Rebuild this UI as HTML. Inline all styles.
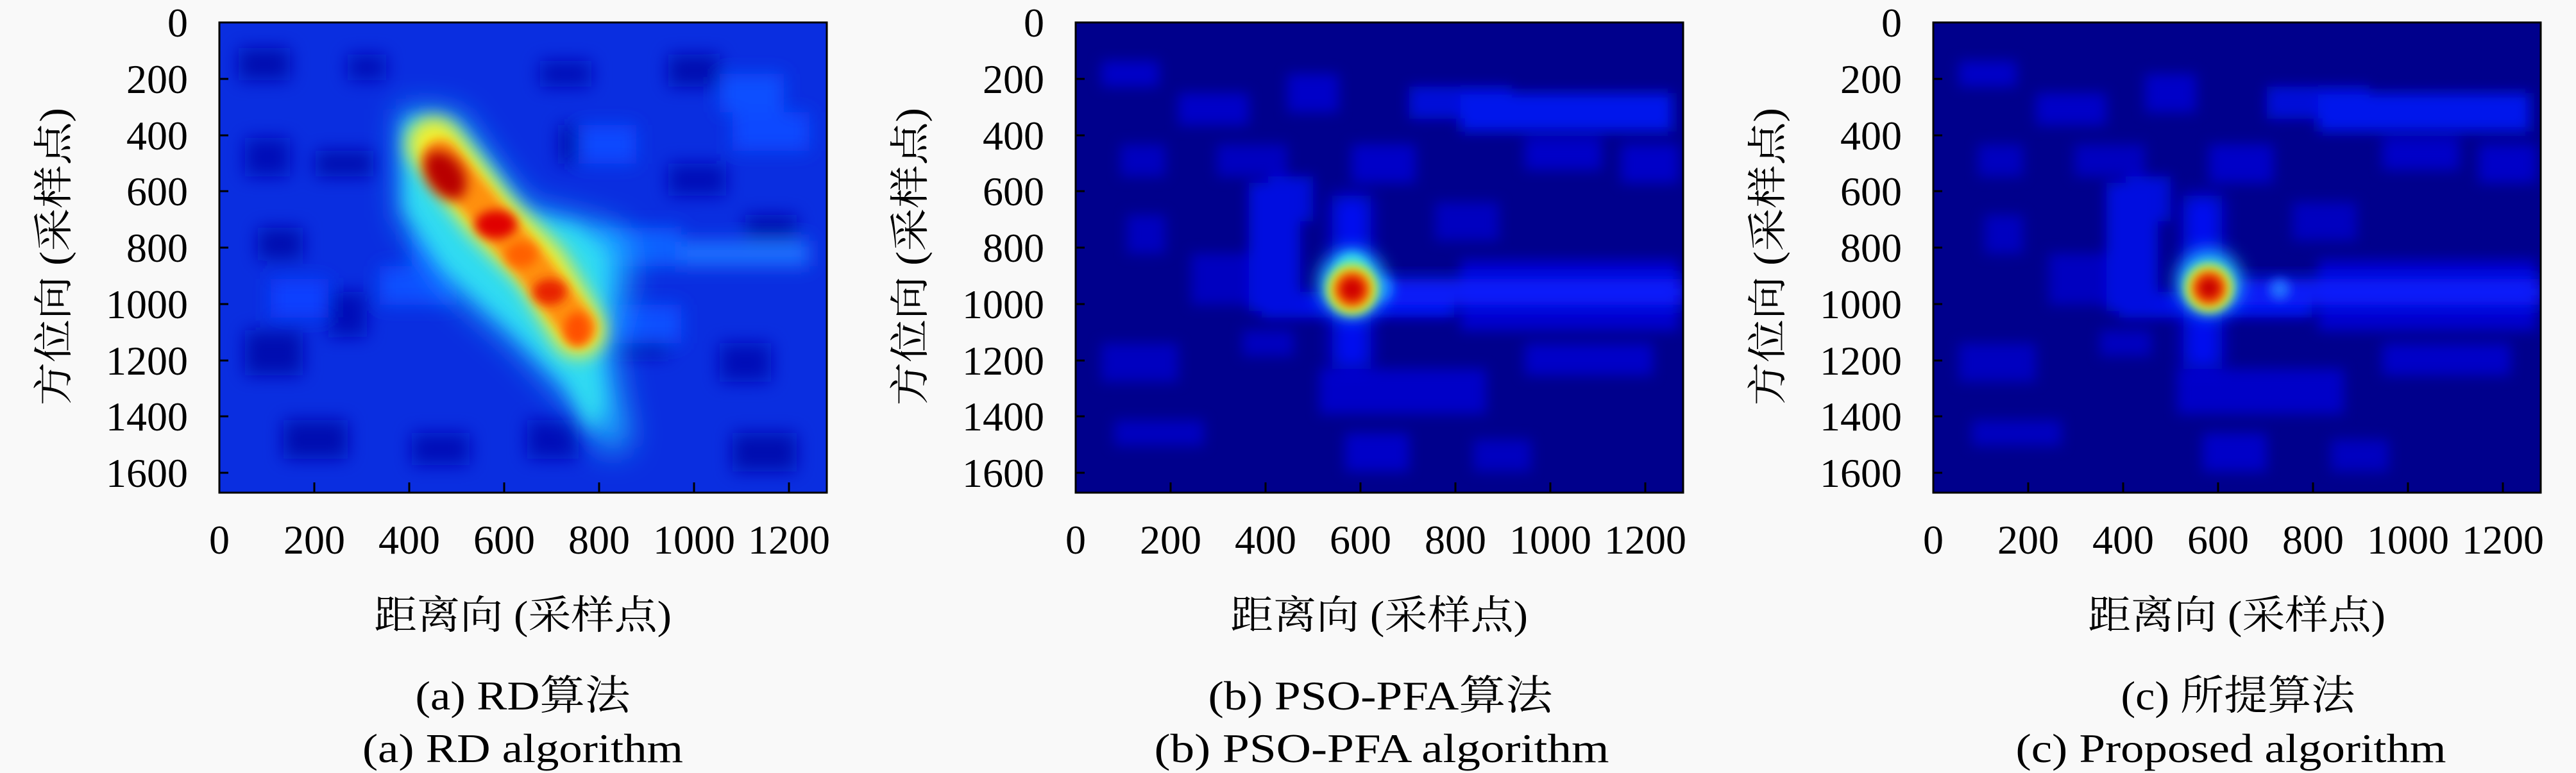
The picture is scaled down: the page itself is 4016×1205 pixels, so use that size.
<!DOCTYPE html>
<html><head><meta charset="utf-8"><style>
html,body{margin:0;padding:0;background:#f9f9f9;}
svg{display:block;}
text{font-family:"Liberation Serif","Noto Serif CJK SC",serif;fill:#000;}
</style></head><body>
<svg width="4016" height="1205" viewBox="0 0 4016 1205" xmlns="http://www.w3.org/2000/svg">
<defs>
<filter id="b8" x="-50%" y="-50%" width="200%" height="200%"><feGaussianBlur stdDeviation="8"/></filter>
<filter id="b10" x="-50%" y="-50%" width="200%" height="200%"><feGaussianBlur stdDeviation="10"/></filter>
<filter id="b14" x="-50%" y="-50%" width="200%" height="200%"><feGaussianBlur stdDeviation="14"/></filter>
<filter id="b25" x="-50%" y="-50%" width="200%" height="200%"><feGaussianBlur stdDeviation="25"/></filter>
<clipPath id="cp"><rect x="0" y="0" width="947" height="733"/></clipPath>
<g id="noiseDark">
<rect x="40" y="60" width="90" height="40" fill="#0000c8"/>
<rect x="160" y="110" width="110" height="50" fill="#0000c8"/>
<rect x="330" y="80" width="80" height="60" fill="#0000c8"/>
<rect x="520" y="100" width="160" height="50" fill="#0008d8"/>
<rect x="600" y="110" width="330" height="60" fill="#0014ec"/>
<rect x="70" y="190" width="70" height="50" fill="#0000c0"/>
<rect x="220" y="190" width="110" height="50" fill="#0000c0"/>
<rect x="430" y="190" width="100" height="60" fill="#0000c8"/>
<rect x="700" y="180" width="120" height="50" fill="#0000c8"/>
<rect x="850" y="190" width="90" height="60" fill="#0000c8"/>
<rect x="300" y="240" width="70" height="70" fill="#0008d8"/>
<rect x="80" y="300" width="60" height="60" fill="#0000c0"/>
<rect x="560" y="280" width="100" height="60" fill="#0000c0"/>
<rect x="180" y="360" width="120" height="80" fill="#0000c0"/>
<rect x="290" y="420" width="300" height="40" fill="#0010e8"/>
<rect x="600" y="370" width="340" height="110" fill="#0004d0"/>
<rect x="260" y="480" width="80" height="40" fill="#0000c0"/>
<rect x="40" y="500" width="120" height="60" fill="#0000c0"/>
<rect x="380" y="540" width="260" height="70" fill="#0000c8"/>
<rect x="700" y="500" width="200" height="50" fill="#0000c8"/>
<rect x="60" y="620" width="140" height="40" fill="#0000c0"/>
<rect x="420" y="640" width="100" height="60" fill="#0000c8"/>
<rect x="620" y="650" width="90" height="50" fill="#0000c0"/>
<rect x="270" y="250" width="80" height="200" fill="#0010e0"/>
</g>
<g id="noiseRD">
<rect x="30" y="40" width="80" height="50" fill="#0010b0"/>
<rect x="200" y="50" width="60" height="40" fill="#0010b8"/>
<rect x="500" y="60" width="80" height="40" fill="#0010b8"/>
<rect x="700" y="50" width="80" height="50" fill="#0010b0"/>
<rect x="40" y="180" width="70" height="60" fill="#0010b8"/>
<rect x="150" y="200" width="90" height="40" fill="#0010b0"/>
<rect x="530" y="160" width="70" height="60" fill="#0010b0"/>
<rect x="700" y="220" width="90" height="50" fill="#0010b8"/>
<rect x="820" y="300" width="80" height="50" fill="#0010b0"/>
<rect x="60" y="320" width="70" height="50" fill="#0010b0"/>
<rect x="170" y="420" width="60" height="70" fill="#0010b8"/>
<rect x="40" y="480" width="90" height="70" fill="#0010b0"/>
<rect x="620" y="460" width="80" height="60" fill="#0010b0"/>
<rect x="780" y="500" width="80" height="60" fill="#0010b8"/>
<rect x="100" y="620" width="100" height="60" fill="#0010b0"/>
<rect x="300" y="640" width="90" height="50" fill="#0010b8"/>
<rect x="480" y="620" width="80" height="60" fill="#0010b8"/>
<rect x="800" y="640" width="100" height="60" fill="#0010b0"/>
<rect x="300" y="310" width="90" height="70" fill="#0010b0"/>
<rect x="780" y="80" width="100" height="60" fill="#1050ff"/>
<rect x="560" y="160" width="90" height="60" fill="#1048ff"/>
<rect x="800" y="140" width="120" height="60" fill="#1048ff"/>
<rect x="720" y="340" width="200" height="40" fill="#1a70ff"/>
<rect x="580" y="320" width="140" height="60" fill="#1060ff"/>
<rect x="300" y="320" width="100" height="60" fill="#1050ff"/>
<rect x="250" y="380" width="120" height="60" fill="#1050ff"/>
<rect x="600" y="440" width="120" height="60" fill="#1050ff"/>
<rect x="80" y="400" width="90" height="60" fill="#0c40ff"/>
</g>
</defs>

<!-- Panel A -->
<g transform="translate(342,35)">
<g clip-path="url(#cp)">
<rect width="947" height="733" fill="#0a2ee0"/>
<use href="#noiseRD" filter="url(#b14)"/>
<polygon points="283,134 372,142 426,218 480,288 551,303 631,326 640,395 613,503 622,564 640,656 605,672 551,595 462,503 355,410 283,303" fill="#20b8ff" filter="url(#b25)"/>
<polygon points="290,150 362,160 420,230 470,300 560,320 600,360 600,420 590,520 600,600 580,640 540,560 450,470 350,380 290,290" fill="#30e0f0" filter="url(#b14)" opacity="0.9"/>
<path d="M335,190 L420,300 L500,380 L560,480" stroke="#f0f030" stroke-width="85" stroke-linecap="round" fill="none" filter="url(#b14)"/>
<path d="M345,210 L420,300 L480,370 L560,475" stroke="#ff9010" stroke-width="55" stroke-linecap="round" fill="none" filter="url(#b8)"/>
<ellipse cx="352" cy="238" rx="28" ry="42" fill="#b80000" filter="url(#b10)" transform="rotate(-35 352 238)"/>
<ellipse cx="431" cy="315" rx="32" ry="22" fill="#e00000" filter="url(#b8)"/>
<ellipse cx="471" cy="362" rx="24" ry="20" fill="#ff6000" filter="url(#b8)"/>
<ellipse cx="515" cy="420" rx="26" ry="20" fill="#e82000" filter="url(#b8)"/>
<ellipse cx="558" cy="478" rx="20" ry="26" fill="#ff5000" filter="url(#b8)"/>
</g>
<rect width="947" height="733" fill="none" stroke="#000" stroke-width="3"/>
</g>

<!-- Panel B -->
<g transform="translate(1677,35)">
<g clip-path="url(#cp)">
<rect width="947" height="733" fill="#00008c"/>
<use href="#noiseDark" filter="url(#b10)"/>
<rect x="440" y="400" width="507" height="40" fill="#0824ff" filter="url(#b14)"/>
<rect x="400" y="270" width="60" height="270" fill="#0010f0" filter="url(#b14)"/>
<circle cx="478" cy="416" r="18" fill="#1060ff" filter="url(#b8)"/>
<circle cx="431" cy="407" r="52" fill="#20c0ff" filter="url(#b14)"/>
<circle cx="431" cy="382" r="22" fill="#30d8f0" filter="url(#b8)"/>
<circle cx="431" cy="416" r="40" fill="#c0ff40" filter="url(#b8)"/>
<circle cx="431" cy="416" r="30" fill="#ff8000" filter="url(#b8)"/>
<circle cx="431" cy="416" r="20" fill="#d00000" filter="url(#b8)"/>
</g>
<rect width="947" height="733" fill="none" stroke="#000" stroke-width="3"/>
</g>

<!-- Panel C -->
<g transform="translate(3014,35)">
<g clip-path="url(#cp)">
<rect width="947" height="733" fill="#00008c"/>
<use href="#noiseDark" filter="url(#b10)"/>
<rect x="430" y="400" width="517" height="40" fill="#0824ff" filter="url(#b14)"/>
<rect x="390" y="270" width="60" height="270" fill="#0010f0" filter="url(#b14)"/>
<circle cx="540" cy="416" r="16" fill="#2070ff" filter="url(#b8)"/>
<circle cx="430" cy="405" r="50" fill="#20c0ff" filter="url(#b14)"/>
<circle cx="430" cy="414" r="38" fill="#c0ff40" filter="url(#b8)"/>
<circle cx="430" cy="414" r="28" fill="#ff7000" filter="url(#b8)"/>
<circle cx="430" cy="414" r="18" fill="#c80000" filter="url(#b8)"/>
</g>
<rect width="947" height="733" fill="none" stroke="#000" stroke-width="3"/>
</g>

<g id="axA">
<g font-size="64" text-anchor="end">
<text x="293" y="57">0</text><text x="293" y="145">200</text><text x="293" y="233">400</text><text x="293" y="320">600</text><text x="293" y="408">800</text><text x="293" y="496">1000</text><text x="293" y="584">1200</text><text x="293" y="671">1400</text><text x="293" y="759">1600</text>
</g>
<g font-size="64" text-anchor="middle">
<text x="342" y="863">0</text><text x="490" y="863">200</text><text x="638" y="863">400</text><text x="786" y="863">600</text><text x="934" y="863">800</text><text x="1082" y="863">1000</text><text x="1230" y="863">1200</text>
</g>
<g stroke="#000" stroke-width="3">
<line x1="490" y1="768" x2="490" y2="752"/><line x1="638" y1="768" x2="638" y2="752"/><line x1="786" y1="768" x2="786" y2="752"/><line x1="934" y1="768" x2="934" y2="752"/><line x1="1082" y1="768" x2="1082" y2="752"/><line x1="1230" y1="768" x2="1230" y2="752"/>
<line x1="342" y1="123" x2="356" y2="123"/><line x1="342" y1="211" x2="356" y2="211"/><line x1="342" y1="298" x2="356" y2="298"/><line x1="342" y1="386" x2="356" y2="386"/><line x1="342" y1="474" x2="356" y2="474"/><line x1="342" y1="562" x2="356" y2="562"/><line x1="342" y1="649" x2="356" y2="649"/><line x1="342" y1="737" x2="356" y2="737"/>
</g>
<text x="815" y="980" font-size="62" text-anchor="middle" textLength="464" lengthAdjust="spacingAndGlyphs">距离向 (采样点)</text>
<text transform="translate(105,400) rotate(-90)" font-size="62" text-anchor="middle" textLength="464" lengthAdjust="spacingAndGlyphs">方位向 (采样点)</text>
</g>
<use href="#axA" transform="translate(1335,0)"/>
<use href="#axA" transform="translate(2672,0)"/>

<g font-size="64" text-anchor="middle">
<text x="815" y="1106" textLength="335" lengthAdjust="spacingAndGlyphs">(a) RD算法</text>
<text x="815" y="1188" textLength="500" lengthAdjust="spacingAndGlyphs">(a) RD algorithm</text>
<text x="2152" y="1106" textLength="537" lengthAdjust="spacingAndGlyphs">(b) PSO-PFA算法</text>
<text x="2154" y="1188" textLength="709" lengthAdjust="spacingAndGlyphs">(b) PSO-PFA algorithm</text>
<text x="3489" y="1106" textLength="365" lengthAdjust="spacingAndGlyphs">(c) 所提算法</text>
<text x="3478" y="1188" textLength="671" lengthAdjust="spacingAndGlyphs">(c) Proposed algorithm</text>
</g>
</svg>
</body></html>
